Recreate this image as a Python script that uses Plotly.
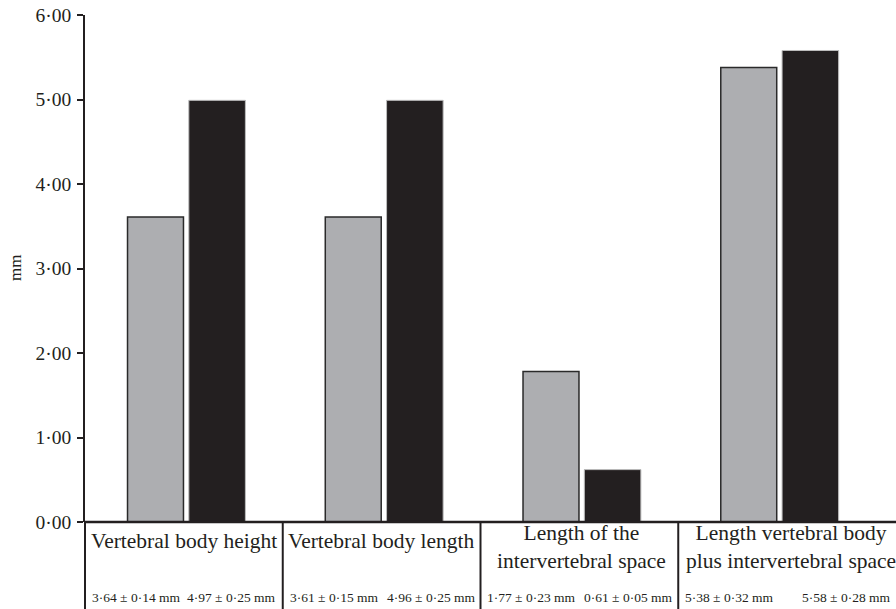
import plotly.graph_objects as go

categories = ["Vertebral body height", "Vertebral body length",
              "Length of the<br>intervertebral space",
              "Length vertebral body<br>plus intervertebral space"]
group_a = [3.61, 3.61, 1.78, 5.38]   # grey bars
group_b = [4.99, 4.99, 0.62, 5.58]   # black bars
value_text_a = ["3·64 ± 0·14 mm", "3·61 ± 0·15 mm", "1·77 ± 0·23 mm", "5·38 ± 0·32 mm"]
value_text_b = ["4·97 ± 0·25 mm", "4·96 ± 0·25 mm", "0·61 ± 0·05 mm", "5·58 ± 0·28 mm"]
y_ticks = [0, 1, 2, 3, 4, 5, 6]
y_tick_labels = ["0·00", "1·00", "2·00", "3·00", "4·00", "5·00", "6·00"]

FONT = "Liberation Serif"
INK = "#231F20"
x = list(range(len(categories)))

fig = go.Figure()
fig.add_trace(go.Bar(x=x, y=group_a, offset=-0.285, width=0.283,
                     marker=dict(color="#ADAEB1", line=dict(color="#2a2a2a", width=1.5)),
                     showlegend=False))
fig.add_trace(go.Bar(x=x, y=group_b, offset=0.025, width=0.286,
                     marker=dict(color=INK, line=dict(color="#bdbdbd", width=1)),
                     showlegend=False))

PH = 507.0  # plot height in px
PW = 791.0
def py(p):
    return (522 - p) / PH
def pxp(p):
    return (p - 85) / PW

annotations = []
label_x = [0, 1, 2.01, 3.07]
label_y = [py(541), py(541), py(546.5), py(546.5)]
for i, c in enumerate(categories):
    annotations.append(dict(x=label_x[i], y=label_y[i], xref="x", yref="paper",
                            text=c, showarrow=False, xanchor="center", yanchor="middle",
                            font=dict(family=FONT, size=21.5, color=INK)))
a_x = [-0.24, 0.76, 1.76, 2.76]
b_x = [0.24, 1.25, 2.25, 3.35]
for i in range(len(categories)):
    annotations.append(dict(x=a_x[i], y=py(597), xref="x", yref="paper",
                            text=value_text_a[i], showarrow=False, xanchor="center", yanchor="middle",
                            font=dict(family=FONT, size=13.5, color=INK)))
    annotations.append(dict(x=b_x[i], y=py(597), xref="x", yref="paper",
                            text=value_text_b[i], showarrow=False, xanchor="center", yanchor="middle",
                            font=dict(family=FONT, size=13.5, color=INK)))
annotations.append(dict(x=pxp(15), y=py(268), xref="paper", yref="paper", text="mm",
                        showarrow=False, textangle=-90, xanchor="center", yanchor="middle",
                        font=dict(family=FONT, size=17, color=INK)))

shapes = [dict(type="line", xref="paper", yref="paper", x0=0, x1=pxp(900), y0=0, y1=0,
               line=dict(color=INK, width=2.5))]
for px_ in [0, 0.25, 0.5, 0.75]:
    shapes.append(dict(type="line", xref="paper", yref="paper", x0=px_, x1=px_,
                       y0=0, y1=py(615), line=dict(color=INK, width=2)))

fig.update_layout(
    width=896, height=609, autosize=False,
    margin=dict(l=85, r=20, t=15, b=87, pad=0, autoexpand=False),
    plot_bgcolor="white", paper_bgcolor="white",
    barmode="overlay",
    xaxis=dict(range=[-0.5, 3.5], showticklabels=False, showline=False,
               showgrid=False, zeroline=False, ticks="", automargin=False),
    yaxis=dict(range=[0, 6], tickvals=y_ticks, ticktext=y_tick_labels,
               showline=True, linecolor=INK, linewidth=1.5,
               ticks="outside", ticklen=6, tickwidth=1.5, tickcolor=INK,
               showgrid=False, zeroline=False, automargin=False,
               ticklabelstandoff=2,
               tickfont=dict(family=FONT, size=19.5, color=INK)),
    annotations=annotations,
    shapes=shapes,
)

fig.write_html("out.html", config={"displayModeBar": False},
               post_script="document.body.style.margin='0px';document.body.style.overflow='hidden';")
